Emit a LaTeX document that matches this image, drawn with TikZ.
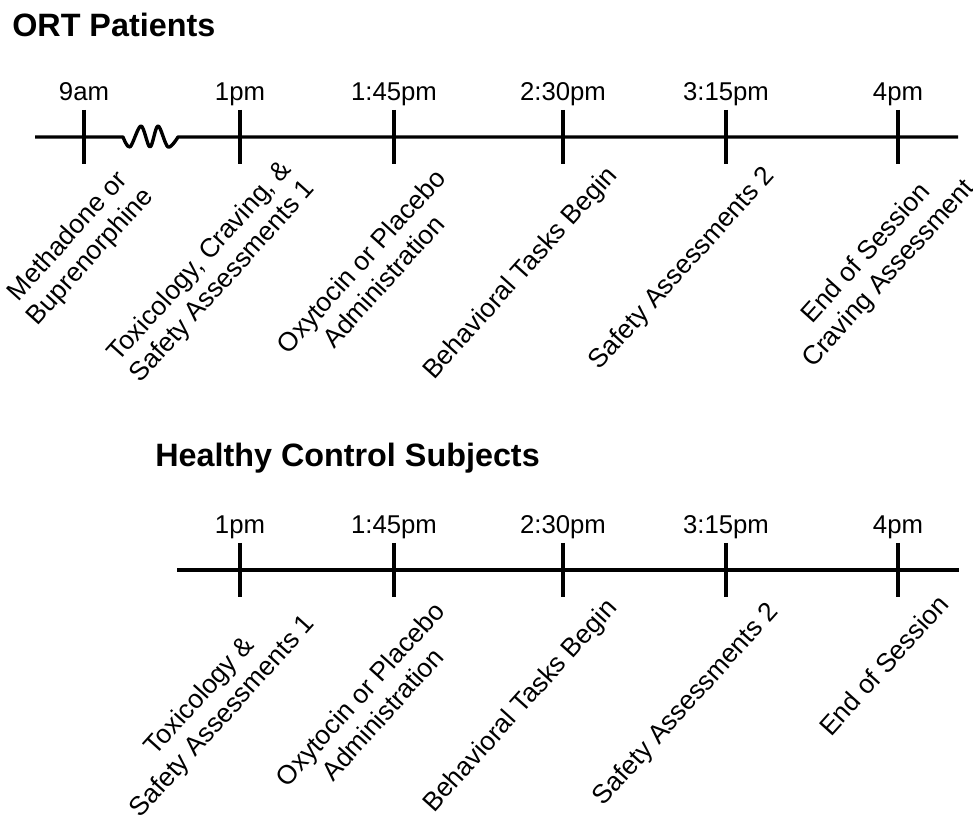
\documentclass[tikz,border=0pt]{standalone}
\usepackage{fontspec}
\setmainfont{Liberation Sans}
\usetikzlibrary{positioning}

\begin{document}
\begin{tikzpicture}[axis/.style = {line width=2.4pt, line join=round},
	tick/.style = {line width=2.4pt},
	time/.style = {anchor=base, inner sep=0pt, font=\fontsize{18.3}{21.3}\selectfont},
	event/.style = {rotate=48, align=center, inner sep=0pt, font=\fontsize{18.8}{21.6}\selectfont},
	heading/.style = {anchor=base west, inner sep=0pt, font=\fontsize{23}{27}\selectfont\bfseries}]
				\useasboundingbox (0,0) rectangle (24.325,20.5);
				% ORT patients
				\node[heading] (ort) at (0.3,19.575) {ORT Patients};
				\coordinate (ortstart) at (0.875,17.075);
				\coordinate (ortend) at (23.95,17.075);
				\coordinate (a1) at (2.1,17.075);
				\coordinate (a2) at (6.0,17.075);
				\coordinate (a3) at (9.85,17.075);
				\coordinate (a4) at (14.075,17.075);
				\coordinate (a5) at (18.15,17.075);
				\coordinate (a6) at (22.45,17.075);
				\draw[axis] (ortstart) -- plot[smooth, tension=0.55] coordinates {(3.075,17.075) (3.25,16.825) (3.525,17.35) (3.75,16.825) (3.95,17.35) (4.2,16.825) (4.45,17.075)} -- (ortend);
				\draw[tick] ([yshift=0.675cm]a1) -- ([yshift=-0.675cm]a1);
				\draw[tick] ([yshift=0.675cm]a2) -- ([yshift=-0.675cm]a2);
				\draw[tick] ([yshift=0.675cm]a3) -- ([yshift=-0.675cm]a3);
				\draw[tick] ([yshift=0.675cm]a4) -- ([yshift=-0.675cm]a4);
				\draw[tick] ([yshift=0.675cm]a5) -- ([yshift=-0.675cm]a5);
				\draw[tick] ([yshift=0.675cm]a6) -- ([yshift=-0.675cm]a6);
				\node[time, above=0.92cm of a1, anchor=base] (ta1) {9am};
				\node[time, above=0.92cm of a2, anchor=base] (ta2) {1pm};
				\node[time, above=0.92cm of a3, anchor=base] (ta3) {1:45pm};
				\node[time, above=0.92cm of a4, anchor=base] (ta4) {2:30pm};
				\node[time, above=0.92cm of a5, anchor=base] (ta5) {3:15pm};
				\node[time, above=0.92cm of a6, anchor=base] (ta6) {4pm};
				\node[event] (ea1) at (1.99,14.325) {Methadone or\\Buprenorphine};
				\node[event] (ea2) at (5.3,13.7) {Toxicology, Craving, \&\\Safety Assessments 1};
				\node[event] (ea3) at (9.3,13.725) {Oxytocin or Placebo\\Administration};
				\node[event] (ea4) at (13.025,13.66) {Behavioral Tasks Begin};
				\node[event] (ea5) at (17.06,13.775) {Safety Assessments 2};
				\node[event] (ea6) at (21.95,13.9) {End of Session\\Craving Assessment};
				% healthy controls
				\node[heading] (hc) at (3.875,8.825) {Healthy Control Subjects};
				\coordinate (hcstart) at (4.425,6.25);
				\coordinate (hcend) at (23.975,6.25);
				\coordinate (b1) at (6.0,6.25);
				\coordinate (b2) at (9.85,6.25);
				\coordinate (b3) at (14.075,6.25);
				\coordinate (b4) at (18.15,6.25);
				\coordinate (b5) at (22.45,6.25);
				\draw[axis] (hcstart) -- (hcend);
				\draw[tick] ([yshift=0.675cm]b1) -- ([yshift=-0.675cm]b1);
				\draw[tick] ([yshift=0.675cm]b2) -- ([yshift=-0.675cm]b2);
				\draw[tick] ([yshift=0.675cm]b3) -- ([yshift=-0.675cm]b3);
				\draw[tick] ([yshift=0.675cm]b4) -- ([yshift=-0.675cm]b4);
				\draw[tick] ([yshift=0.675cm]b5) -- ([yshift=-0.675cm]b5);
				\node[time, above=0.9cm of b1, anchor=base] (tb1) {1pm};
				\node[time, above=0.9cm of b2, anchor=base] (tb2) {1:45pm};
				\node[time, above=0.9cm of b3, anchor=base] (tb3) {2:30pm};
				\node[time, above=0.9cm of b4, anchor=base] (tb4) {3:15pm};
				\node[time, above=0.9cm of b5, anchor=base] (tb5) {4pm};
				\node[event] (eb1) at (5.295,2.825) {Toxicology \&\\Safety Assessments 1};
				\node[event] (eb2) at (9.275,2.9) {Oxytocin or Placebo\\Administration};
				\node[event] (eb3) at (13.025,2.84) {Behavioral Tasks Begin};
				\node[event] (eb4) at (17.16,2.875) {Safety Assessments 2};
				\node[event] (eb5) at (22.09,3.875) {End of Session};
			\end{tikzpicture}
\end{document}
